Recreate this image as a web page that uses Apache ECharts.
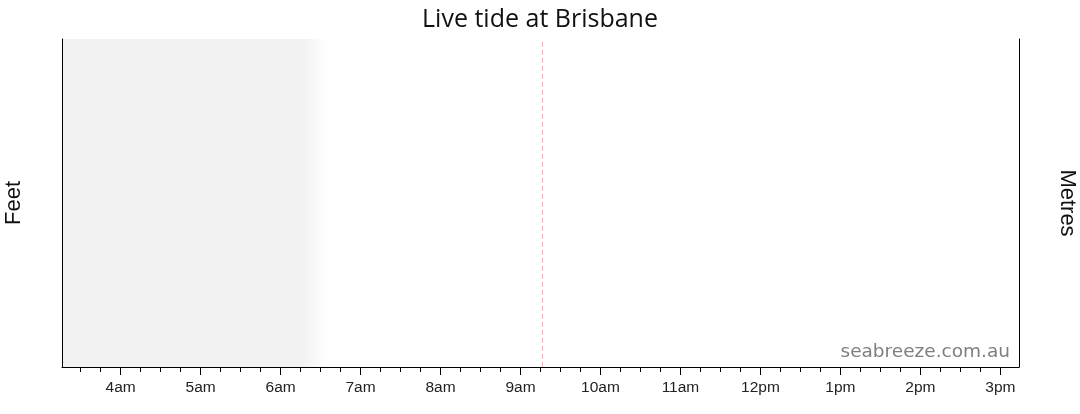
<!DOCTYPE html>
<html>
<head>
<meta charset="utf-8">
<script src="https://cdn.jsdelivr.net/npm/echarts@6/dist/echarts.min.js"></script>
<style>
  html, body { margin: 0; padding: 0; background: #fff; }
  #tideChart { width: 1080px; height: 414px; }
</style>
</head>
<body>
<div id="tideChart"></div>
<script>
  // chart window (local time, same day)
  const day = '2024-01-01';
  const axisRange = ['03:16', '15:14'];
  // labelled hours along the bottom
  const hourTicks = ['04:00', '05:00', '06:00', '07:00', '08:00', '09:00',
                     '10:00', '11:00', '12:00', '13:00', '14:00', '15:00'];
  // darkness before sunrise: solid until first, fades out by second
  const nightShade = ['06:17', '06:34'];
  // "now" marker
  const nowTime = ['09:16'];
  // no tide readings came through for this chart
  const tideFeet = [];
  const tideMetres = [];

  function t(hm) {
    return new Date(day + 'T' + hm + ':00').getTime();
  }

  function hourLabel(val) {
    const d = new Date(val);
    let h = d.getHours();
    const suffix = h < 12 ? 'am' : 'pm';
    h = h % 12;
    if (h === 0) h = 12;
    return h + suffix;
  }

  const xMin = t(axisRange[0]);
  const xMax = t(axisRange[1]);
  const majorVals = hourTicks.map(t);
  // quarter-hour ticks between (and just either side of) the hours
  const minorVals = [];
  [t('03:00')].concat(majorVals).forEach(function (h) {
    [15, 30, 45].forEach(function (m) {
      const v = h + m * 60000;
      if (v > xMin && v < xMax) minorVals.push(v);
    });
  });
  // fraction of the shaded box that stays solid before fading
  const solidStop = (t(nightShade[0]) - xMin) / (t(nightShade[1]) - xMin);

  const chart = echarts.init(document.getElementById('tideChart'));
  chart.setOption({
    animation: false,
    title: {
      text: 'Live tide at Brisbane',
      left: 'center',
      top: 2,
      textStyle: {
        fontFamily: 'Open Sans',
        fontWeight: 'normal',
        fontSize: 25,
        color: '#111'
      }
    },
    grid: {
      left: 62, right: 61, top: 39, bottom: 47,
      containLabel: false,
      outerBoundsMode: 'none'
    },
    xAxis: [
      {
        type: 'value',
        min: xMin,
        max: xMax,
        z: 10,
        axisLine: { show: true, lineStyle: { color: '#000', width: 1 } },
        axisTick: { show: true, length: 8, customValues: majorVals, lineStyle: { color: '#000' } },
        splitLine: { show: false },
        axisLabel: {
          customValues: majorVals,
          formatter: hourLabel,
          margin: 13,
          fontFamily: 'Liberation Sans',
          fontSize: 15.5,
          color: '#222'
        }
      },
      {
        type: 'value',
        min: xMin,
        max: xMax,
        position: 'bottom',
        z: 10,
        axisLine: { show: false },
        axisTick: { show: true, length: 5, customValues: minorVals, lineStyle: { color: '#000' } },
        splitLine: { show: false },
        axisLabel: { show: false }
      }
    ],
    yAxis: [
      {
        type: 'value',
        position: 'left',
        min: 0,
        max: 10,
        z: 10,
        name: 'Feet',
        nameLocation: 'middle',
        nameGap: 37,
        nameTextStyle: { fontFamily: 'Liberation Sans', fontSize: 22, color: '#111' },
        axisLine: { show: true, lineStyle: { color: '#000', width: 1 } },
        axisTick: { show: false },
        axisLabel: { show: false },
        splitLine: { show: false }
      },
      {
        type: 'value',
        position: 'right',
        min: 0,
        max: 3,
        z: 10,
        name: 'Metres',
        nameLocation: 'middle',
        nameRotate: -90,
        nameGap: 37,
        nameTextStyle: { fontFamily: 'Liberation Sans', fontSize: 22, color: '#111' },
        axisLine: { show: true, lineStyle: { color: '#000', width: 1 } },
        axisTick: { show: false },
        axisLabel: { show: false },
        splitLine: { show: false }
      }
    ],
    graphic: [
      {
        type: 'text',
        right: 70,
        bottom: 52,
        style: {
          text: 'seabreeze.com.au',
          font: '18.5px "DejaVu Sans"',
          fill: '#7f7f7f'
        },
        z: 100
      }
    ],
    series: [
      {
        name: 'Feet',
        type: 'line',
        yAxisIndex: 0,
        data: tideFeet,
        symbol: 'none',
        markArea: {
          silent: true,
          itemStyle: {
            color: {
              type: 'linear', x: 0, y: 0, x2: 1, y2: 0,
              colorStops: [
                { offset: 0, color: '#f2f2f2' },
                { offset: solidStop, color: '#f2f2f2' },
                { offset: 1, color: '#ffffff' }
              ]
            }
          },
          data: [[{ xAxis: xMin }, { xAxis: t(nightShade[1]) }]]
        },
        markLine: {
          silent: true,
          symbol: 'none',
          label: { show: false },
          lineStyle: { color: '#f2b6ba', type: [5, 3], width: 1 },
          data: nowTime.map(function (hm) { return { xAxis: t(hm) }; })
        }
      },
      {
        name: 'Metres',
        type: 'line',
        yAxisIndex: 1,
        data: tideMetres,
        symbol: 'none'
      }
    ]
  });
</script>
</body>
</html>
